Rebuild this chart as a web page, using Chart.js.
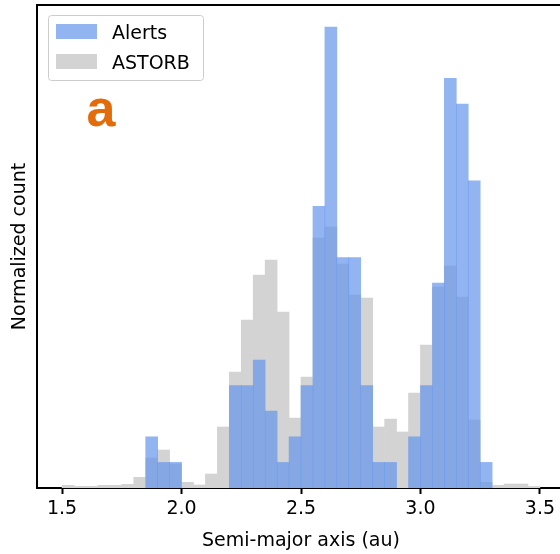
<!DOCTYPE html>
<html>
<head>
<meta charset="utf-8">
<script src="https://cdn.jsdelivr.net/npm/chart.js@4"></script>
<style>
  html, body { margin: 0; padding: 0; background: #fff; overflow: hidden; }
  #wrap { width: 560px; height: 554px; overflow: hidden; }
</style>
</head>
<body>
<div id="wrap"><canvas id="histChart" width="580" height="554"></canvas></div>
<script>
// bin centres, 0.05 au wide bins
const binCenters = [
  1.525, 1.575, 1.625, 1.675, 1.725, 1.775, 1.825, 1.875, 1.925, 1.975,
  2.025, 2.075, 2.125, 2.175, 2.225, 2.275, 2.325, 2.375, 2.425, 2.475,
  2.525, 2.575, 2.625, 2.675, 2.725, 2.775, 2.825, 2.875, 2.925, 2.975,
  3.025, 3.075, 3.125, 3.175, 3.225, 3.275, 3.325, 3.375, 3.425, 3.475
]

// normalized counts (arbitrary units, no y ticks in the figure)
const alertsValues = [
  null, null, null, null, null, null, null, 51.2, 25.6, 25.6,
  null, null, null, null, 102.4, 102.4, 128, 76.8, 25.6, 51.2,
  102.4, 281.6, 460.8, 230.4, 230.4, 102.4, 25.6, 25.6, null, 51.2,
  102.4, 204.8, 409.6, 384, 307.2, 25.6, null, null, null, null
]

const astorbValues = [
  2.7, 1.7, 1.7, 2.7, 2.7, 3.7, 10.7, 30, 38, 24,
  5.7, 3, 14, 61, 116, 168, 213, 228, 176, 70,
  111, 250, 261, 224, 193, 190, 61, 69, 56, 95,
  143, 201, 222, 191, 68, 5.7, 2.7, 4, 4, 1.5
]

const tickValues = [1.5, 2.0, 2.5, 3.0, 3.5]
const tickLabels = ['1.5', '2.0', '2.5', '3.0', '3.5']

const seriesNames = ['Alerts', 'ASTORB']
const alertsColor = 'rgba(100, 149, 237, 0.7)'
const astorbColor = 'rgb(211, 211, 211)'

const FONT = 'DejaVu Sans'

function toPoints(values) {
  return binCenters.map((x, i) => ({ x: x, y: values[i] }))
}

// top spine, framed legend and the panel letter
const extrasPlugin = {
  id: 'extras',
  afterDraw(chart) {
    const { ctx, chartArea } = chart
    ctx.save()

    // top spine
    ctx.strokeStyle = '#000'
    ctx.lineWidth = 2
    ctx.beginPath()
    ctx.moveTo(chartArea.left - 1, chartArea.top)
    ctx.lineTo(chartArea.right, chartArea.top)
    ctx.stroke()

    // legend frame
    ctx.fillStyle = 'rgba(255,255,255,0.8)'
    ctx.strokeStyle = '#cccccc'
    ctx.lineWidth = 1
    ctx.beginPath()
    ctx.roundRect(48.5, 15.5, 155, 65, 3)
    ctx.fill()
    ctx.stroke()

    // legend entries
    const ds = chart.data.datasets
    ctx.font = '19px "' + FONT + '"'
    ctx.textBaseline = 'alphabetic'
    ctx.textAlign = 'left'
    ds.forEach((d, i) => {
      const y = 24 + i * 30
      ctx.fillStyle = d.backgroundColor
      ctx.fillRect(56, y, 41, 15)
      ctx.fillStyle = '#000'
      ctx.fillText(d.label, 112, y + 15)
    })

    // panel letter
    ctx.fillStyle = '#e36c0a'
    ctx.font = 'bold 52px "Liberation Sans"'
    ctx.fillText('a', 86.5, 126)

    ctx.restore()
  }
}

new Chart(document.getElementById('histChart'), {
  type: 'bar',
  data: {
    datasets: [
      {
        label: seriesNames[0],
        data: toPoints(alertsValues),
        backgroundColor: alertsColor,
        borderWidth: 0,
        grouped: false,
        barPercentage: 1,
        categoryPercentage: 1
      },
      {
        label: seriesNames[1],
        data: toPoints(astorbValues),
        backgroundColor: astorbColor,
        borderWidth: 0,
        grouped: false,
        barPercentage: 1,
        categoryPercentage: 1
      }
    ]
  },
  options: {
    responsive: false,
    animation: false,
    layout: { padding: { top: 5, right: 15, left: 0, bottom: 0 } },
    plugins: {
      legend: { display: false },
      tooltip: { enabled: false }
    },
    scales: {
      x: {
        type: 'linear',
        offset: false,
        min: 1.395,
        max: 3.605,
        afterFit: scale => { scale.height = 66 },
        afterBuildTicks: scale => {
          scale.ticks = tickValues.map(v => ({ value: v }))
        },
        ticks: {
          color: '#000',
          font: { family: FONT, size: 19 },
          padding: 4,
          maxRotation: 0,
          callback: (v) => tickLabels[tickValues.indexOf(v)]
        },
        grid: {
          display: true,
          offset: false,
          drawOnChartArea: false,
          drawTicks: true,
          tickLength: 6,
          tickWidth: 2,
          tickColor: '#000'
        },
        border: { display: true, color: '#000', width: 2 },
        title: {
          display: true,
          text: 'Semi-major axis (au)',
          color: '#000',
          font: { family: FONT, size: 19 },
          padding: { top: 0, bottom: 2 }
        }
      },
      y: {
        min: 0,
        max: 483,
        afterFit: scale => { scale.width = 37 },
        ticks: { display: false },
        grid: { display: false, drawTicks: false },
        border: { display: true, color: '#000', width: 2 },
        title: {
          display: true,
          text: 'Normalized count',
          color: '#000',
          font: { family: FONT, size: 19 },
          padding: { top: 9, bottom: 0 }
        }
      }
    }
  },
  plugins: [extrasPlugin]
})
</script>
</body>
</html>
